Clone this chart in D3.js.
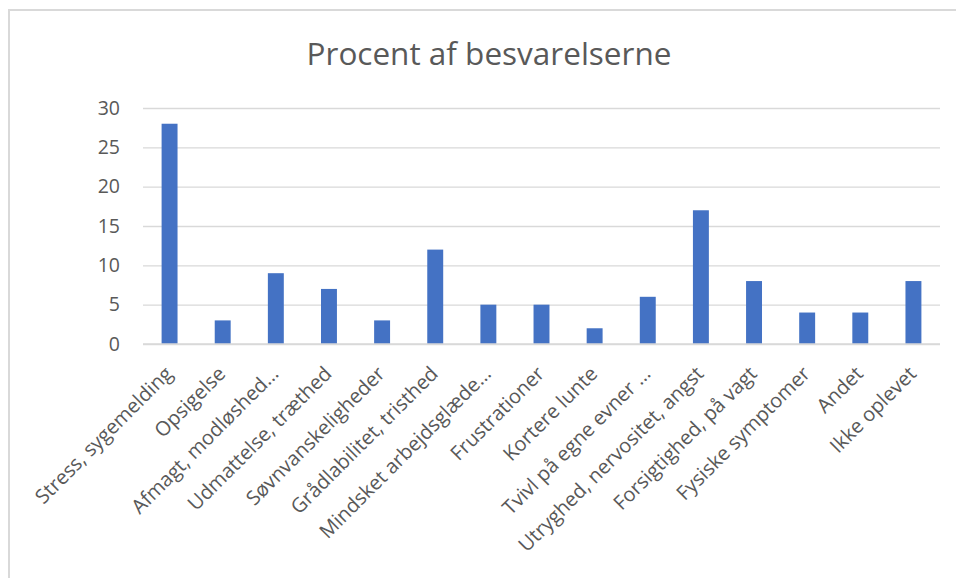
<!DOCTYPE html>
<html>
<head>
<meta charset="utf-8">
<script src="https://cdn.jsdelivr.net/npm/d3@7/dist/d3.min.js"></script>
<style>
  html, body { margin: 0; padding: 0; background: #fff; }
  svg { display: block; }
  text { font-family: "Open Sans", "Noto Sans", sans-serif; fill: #595959; }
</style>
</head>
<body>
<svg id="chart" width="956" height="578"></svg>
<script>
// Reaktioner på arbejdspres, i procent af besvarelserne
const categories = [
  "Stress, sygemelding",
  "Opsigelse",
  "Afmagt, modløshed…",
  "Udmattelse, træthed",
  "Søvnvanskeligheder",
  "Grådlabilitet, tristhed",
  "Mindsket arbejdsglæde…",
  "Frustrationer",
  "Kortere lunte",
  "Tvivl på egne evner …",
  "Utryghed, nervositet, angst",
  "Forsigtighed, på vagt",
  "Fysiske symptomer",
  "Andet",
  "Ikke oplevet"
];
const values = [28, 3, 9, 7, 3, 12, 5, 5, 2, 6, 17, 8, 4, 4, 8];
const yTicks = [0, 5, 10, 15, 20, 25, 30];
const title = "Procent af besvarelserne";

const svg = d3.select("#chart");
const plot = { left: 143, right: 940, top: 108, bottom: 344 };

// Outer chart frame (runs past the right and bottom edges)
svg.append("rect")
  .attr("x", 9).attr("y", 10)
  .attr("width", 1000).attr("height", 700)
  .attr("fill", "#fff")
  .attr("stroke", "#d9d9d9").attr("stroke-width", 2);

const x = d3.scaleBand()
  .domain(categories)
  .range([plot.left, plot.right])
  .paddingInner(0.7)
  .paddingOuter(0.35);

const y = d3.scaleLinear()
  .domain([0, 30])
  .range([plot.bottom, plot.top]);

// Gridlines
const grid = svg.append("g")
  .attr("transform", `translate(${plot.left},0)`)
  .call(d3.axisLeft(y).tickValues(yTicks).tickSize(-(plot.right - plot.left)).tickFormat(""));
grid.select(".domain").remove();
grid.selectAll(".tick line").attr("stroke", "#d9d9d9").attr("stroke-width", 1.3);

// Y tick labels
const yAxis = svg.append("g")
  .attr("transform", `translate(${plot.left},0)`)
  .call(d3.axisLeft(y).tickValues(yTicks).tickSize(0).tickPadding(23));
yAxis.select(".domain").remove();
yAxis.selectAll("text")
  .attr("font-size", 19.5)
  .attr("fill", "#595959")
  .style("font-family", "'Open Sans', sans-serif");

// Bars
svg.append("g").selectAll("rect")
  .data(values)
  .join("rect")
  .attr("x", (d, i) => x(categories[i]))
  .attr("y", d => y(d))
  .attr("width", x.bandwidth())
  .attr("height", d => y(0) - y(d))
  .attr("fill", "#4472c4");

// Baseline
svg.append("line")
  .attr("x1", plot.left).attr("x2", plot.right)
  .attr("y1", y(0)).attr("y2", y(0))
  .attr("stroke", "#d9d9d9").attr("stroke-width", 1.3);

// Category labels, rotated
const xAxis = svg.append("g")
  .attr("transform", `translate(0,${plot.bottom})`)
  .call(d3.axisBottom(x).tickSize(0).tickPadding(0));
xAxis.select(".domain").remove();
xAxis.selectAll("text")
  .attr("font-size", 20)
  .attr("fill", "#595959")
  .style("font-family", "'Open Sans', sans-serif")
  .attr("text-anchor", "end")
  .attr("dy", 0)
  .attr("transform", "translate(4,31) rotate(-45)");

// Title
svg.append("text")
  .attr("x", 489).attr("y", 65)
  .attr("text-anchor", "middle")
  .attr("font-size", 31.5)
  .attr("fill", "#595959")
  .text(title);
</script>
</body>
</html>
